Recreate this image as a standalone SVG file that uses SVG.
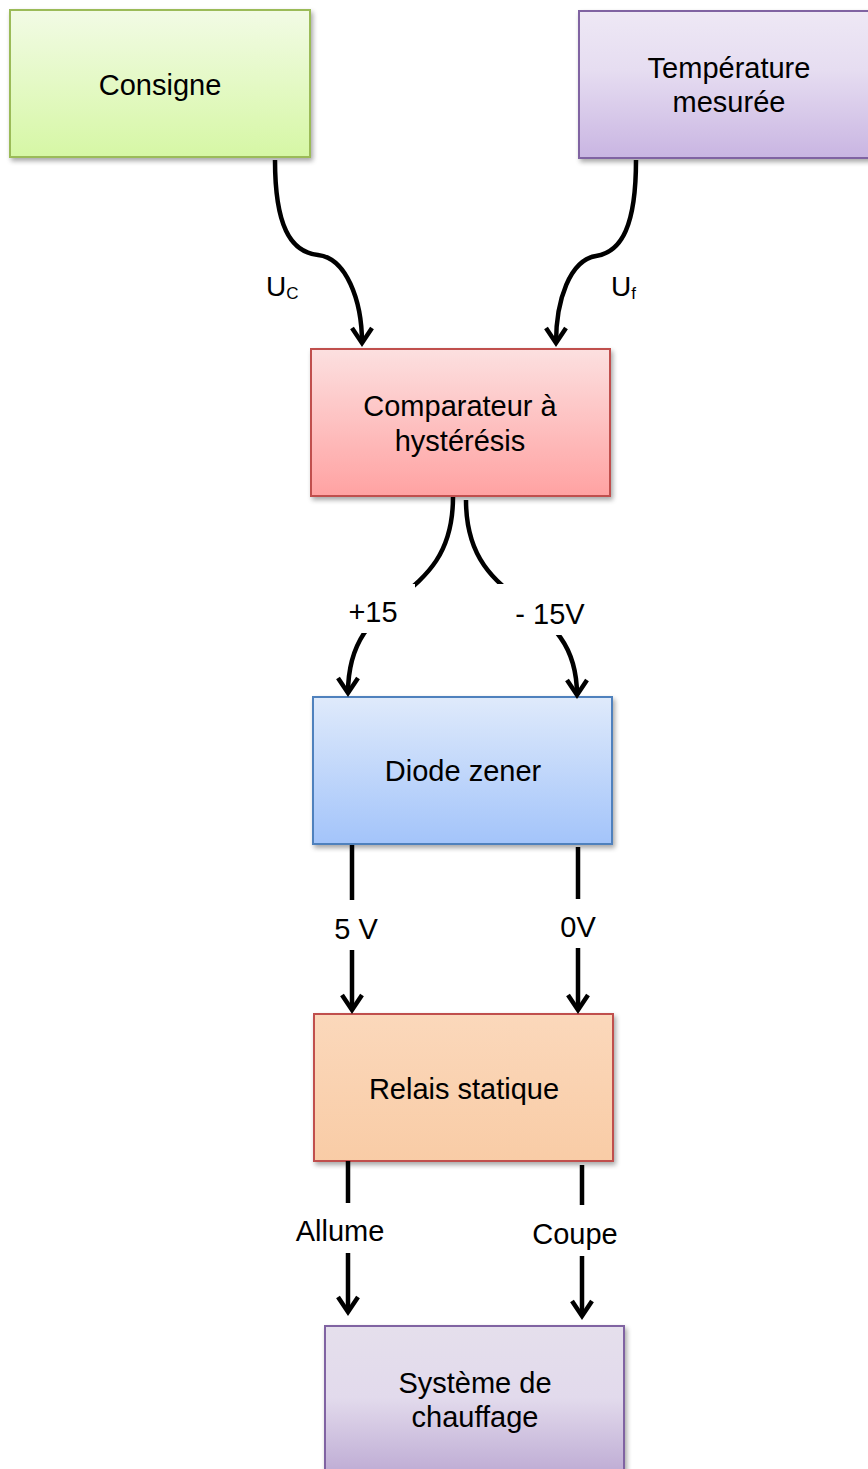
<svg xmlns="http://www.w3.org/2000/svg" width="868" height="1469" viewBox="0 0 868 1469">
<defs>
<linearGradient id="gGreen" x1="0" y1="0" x2="0" y2="1"><stop offset="0" stop-color="#f2fbe5"/><stop offset="1" stop-color="#d6f7a5"/></linearGradient>
<linearGradient id="gPurple" x1="0" y1="0" x2="0" y2="1"><stop offset="0" stop-color="#eee8f5"/><stop offset="0.4" stop-color="#e6ddf1"/><stop offset="1" stop-color="#c9b5e2"/></linearGradient>
<linearGradient id="gRed" x1="0" y1="0" x2="0" y2="1"><stop offset="0" stop-color="#fce0e0"/><stop offset="1" stop-color="#ffa2a2"/></linearGradient>
<linearGradient id="gBlue" x1="0" y1="0" x2="0" y2="1"><stop offset="0" stop-color="#dfeafb"/><stop offset="1" stop-color="#a3c4fa"/></linearGradient>
<linearGradient id="gOrange" x1="0" y1="0" x2="0" y2="1"><stop offset="0" stop-color="#fbd8bb"/><stop offset="1" stop-color="#f9cca6"/></linearGradient>
<linearGradient id="gPurple2" x1="0" y1="0" x2="0" y2="1"><stop offset="0" stop-color="#e5dfec"/><stop offset="0.45" stop-color="#e2daec"/><stop offset="1" stop-color="#b8a4d0"/></linearGradient>
<filter id="shadow" x="-5%" y="-5%" width="115%" height="120%"><feGaussianBlur in="SourceAlpha" stdDeviation="2.5"/><feOffset dx="2" dy="3" result="b"/><feComponentTransfer><feFuncA type="linear" slope="0.35"/></feComponentTransfer><feMerge><feMergeNode/><feMergeNode in="SourceGraphic"/></feMerge></filter>
<marker id="arrow" markerUnits="userSpaceOnUse" markerWidth="30" markerHeight="30" viewBox="-20 -15 30 30" refX="0" refY="0" orient="auto"><path d="M-15,-10 L0,0 L-15,10" fill="none" stroke="#000" stroke-width="4.5" stroke-linejoin="miter"/></marker>
</defs>
<style>
.box{stroke-width:2;filter:url(#shadow)}
.t{font-family:"Liberation Sans",Arial,sans-serif;font-size:29px;fill:#000;text-anchor:middle}
.lbl{font-family:"Liberation Sans",Arial,sans-serif;font-size:28px;fill:#000}
.c{fill:none;stroke:#000;stroke-width:4.5;marker-end:url(#arrow)}
</style>
<rect width="868" height="1469" fill="#fff"/>

<g id="consigne"><rect class="box" x="10" y="10" width="300" height="147" fill="url(#gGreen)" stroke="#9bbb59"/><text class="t" x="160" y="95">Consigne</text></g>
<g id="temperature"><rect class="box" x="579" y="11" width="300" height="147" fill="url(#gPurple)" stroke="#8064a2"/><text class="t" x="729" y="78">Température</text><text class="t" x="729" y="112">mesurée</text></g>
<g id="comparateur"><rect class="box" x="311" y="349" width="299" height="147" fill="url(#gRed)" stroke="#c0504d"/><text class="t" x="460" y="416">Comparateur à</text><text class="t" x="460" y="451">hystérésis</text></g>
<g id="diode"><rect class="box" x="313" y="697" width="299" height="147" fill="url(#gBlue)" stroke="#4f81bd"/><text class="t" x="463" y="781">Diode zener</text></g>
<g id="relais"><rect class="box" x="314" y="1014" width="299" height="147" fill="url(#gOrange)" stroke="#c0504d"/><text class="t" x="464" y="1099">Relais statique</text></g>
<g id="systeme"><rect class="box" x="325" y="1326" width="299" height="160" fill="url(#gPurple2)" stroke="#8064a2"/><text class="t" x="475" y="1393">Système de</text><text class="t" x="475" y="1427">chauffage</text></g>

<g id="connectors">
<path class="c" d="M275,160 C275,225 290,252 318,255 C346,258 362,300 362,343"/>
<path class="c" d="M636,160 C636,225 622,252 596,256 C570,260 556,300 556,343"/>
<path class="c" d="M453,497 C453,610 348,585 348,693"/>
<path class="c" d="M466,500 C466,615 577,590 577,695"/>
<path class="c" d="M352,845 L352,1010"/>
<path class="c" d="M578,847 L578,1010"/>
<path class="c" d="M348,1161 L348,1312"/>
<path class="c" d="M582,1165 L582,1316"/>
<rect x="330" y="584" width="85" height="49" fill="#fff"/>
<rect x="496" y="584" width="95" height="51" fill="#fff"/>
<rect x="330" y="900" width="55" height="50" fill="#fff"/>
<rect x="555" y="899" width="48" height="49" fill="#fff"/>
<rect x="292" y="1203" width="95" height="50" fill="#fff"/>
<rect x="528" y="1205" width="95" height="51" fill="#fff"/>
<text class="lbl" x="266" y="296">U<tspan font-size="17" dy="3">C</tspan></text>
<text class="lbl" x="611" y="296">U<tspan font-size="17" dy="3">f</tspan></text>
<text class="t" x="373" y="622">+15</text>
<text class="t" x="550" y="624">- 15V</text>
<text class="t" x="356" y="939">5 V</text>
<text class="t" x="578" y="937">0V</text>
<text class="t" x="340" y="1241">Allume</text>
<text class="t" x="575" y="1244">Coupe</text>
</g>
</svg>
